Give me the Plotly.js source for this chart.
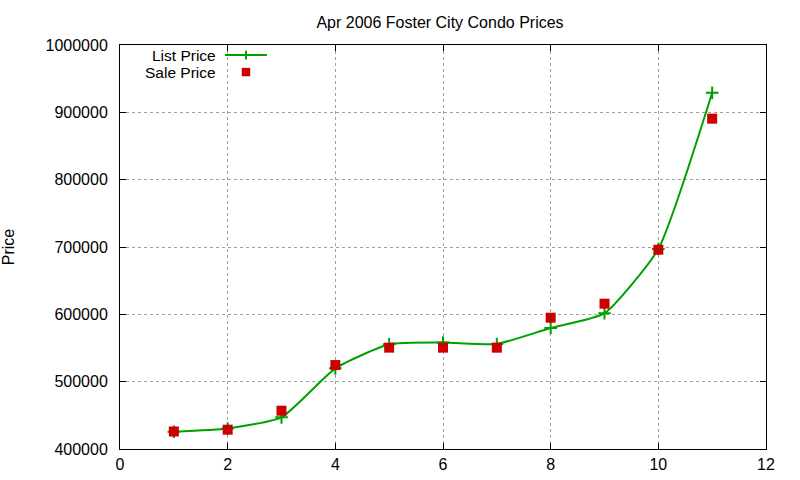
<!DOCTYPE html>
<html>
<head>
<meta charset="utf-8">
<script src="https://cdn.plot.ly/plotly-3.0.1.min.js"></script>
<style>
  html, body { margin: 0; padding: 0; background: #fff; }
  #chart { width: 800px; height: 480px; }
</style>
</head>
<body>
<div id="chart"></div>
<script>
        // Gögnin lesin af myndinni
        const months = [1, 2, 3, 4, 5, 6, 7, 8, 9, 10, 11];
        const listPrice = [425700, 430500, 447000, 519800, 555500, 558000, 556000, 579700, 601500, 697000, 929000];
        const salePrice = [426000, 428700, 456900, 524700, 550500, 550500, 550500, 595000, 615800, 696000, 890600];
        const xTicks = [0, 2, 4, 6, 8, 10, 12];
        const yTicks = [400000, 500000, 600000, 700000, 800000, 900000, 1000000];

        const green = '#00a000';
        const red = '#cc0000';
        const font = 'Liberation Sans, Arial, sans-serif';

        function axis(range, ticks) {
                return {
                        range: range,
                        tickmode: 'array',
                        tickvals: ticks,
                        ticktext: ticks.map(String),
                        ticks: 'inside',
                        ticklen: 6,
                        tickwidth: 1,
                        tickcolor: '#000',
                        ticklabelstandoff: 8,
                        showline: true,
                        linecolor: '#000',
                        linewidth: 1,
                        mirror: 'ticks',
                        showgrid: true,
                        gridcolor: '#a0a0a0',
                        griddash: 'dot',
                        gridwidth: 1,
                        zeroline: false,
                        tickfont: { family: font, size: 16, color: '#000' },
                };
        }

        let list = {
                x: months,
                y: listPrice,
                type: 'scatter',
                mode: 'lines+markers',
                line: { color: green, width: 2, shape: 'spline', smoothing: 0.5 },
                marker: { symbol: 'cross-thin', size: 9, line: { color: green, width: 2 } },
                showlegend: false,
        };
        let sale = {
                x: months,
                y: salePrice,
                type: 'scatter',
                mode: 'markers',
                marker: { symbol: 'square', size: 10, color: red },
                showlegend: false,
        };

        // Gnuplot-legur: texti vinstra megin, tákn hægra megin
        const legX = 0.195, legY1 = 0.975, legY2 = 0.933;
        let layout = {
                width: 800,
                height: 480,
                margin: { l: 120, r: 34, t: 45, b: 31 },
                paper_bgcolor: '#fff',
                plot_bgcolor: '#fff',
                title: { text: 'Apr 2006 Foster City Condo Prices', font: { family: font, size: 16, color: '#000' }, x: 0.55, xanchor: 'center', y: 0.953, yanchor: 'middle' },
                xaxis: Object.assign(axis([0, 12], xTicks), { ticklabelstandoff: 1 }),
                yaxis: Object.assign(axis([400000, 1000000], yTicks), {
                        title: { text: 'Price', font: { family: font, size: 16, color: '#000' }, standoff: 27 },
                }),
                annotations: [
                        { xref: 'paper', yref: 'paper', x: 0.151, y: legY1, xanchor: 'right', yanchor: 'middle', height: 14, text: 'List Price', showarrow: false, font: { family: font, size: 15.5, color: '#000' } },
                        { xref: 'paper', yref: 'paper', x: 0.151, y: legY2, xanchor: 'right', yanchor: 'middle', height: 14, text: 'Sale Price', showarrow: false, font: { family: font, size: 15.5, color: '#000' } },
                ],
                shapes: [
                        { type: 'line', xref: 'paper', yref: 'paper', x0: 0.1625, x1: 0.2276, y0: legY1, y1: legY1, line: { color: green, width: 2 } },
                        { type: 'line', xref: 'paper', yref: 'paper', x0: legX, x1: legX, y0: legY1 - 0.011, y1: legY1 + 0.011, line: { color: green, width: 2 } },
                        { type: 'rect', xref: 'paper', yref: 'paper', x0: legX - 0.0065, x1: legX + 0.0065, y0: legY2 - 0.0105, y1: legY2 + 0.0105, fillcolor: red, line: { width: 0 } },
                ],
        };

        Plotly.newPlot('chart', [list, sale], layout, { displayModeBar: false, staticPlot: true });
</script>
</body>
</html>
